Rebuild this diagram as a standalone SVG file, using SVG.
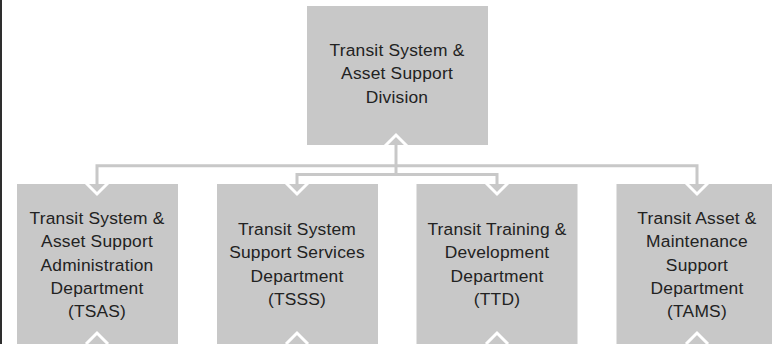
<svg xmlns="http://www.w3.org/2000/svg" width="772" height="344" viewBox="0 0 772 344">
  <style>
    .box { fill: #c8c8c8; }
    .lbl { font-family: "Liberation Sans", Arial, sans-serif; font-size: 17.4px; letter-spacing: 0.2px; fill: #222222; text-anchor: middle; }
    .conn { fill: none; stroke: #c8c8c8; stroke-width: 3; marker-end: url(#chev); }
  </style>
  <defs>
    <marker id="chev" markerUnits="userSpaceOnUse" viewBox="0 0 24 24" markerWidth="24" markerHeight="24" refX="12" refY="12" orient="auto" overflow="visible">
      <path d="M1,1 L12,12 L1,23" fill="none" stroke="#ffffff" stroke-width="3"/>
    </marker>
  </defs>
  <rect x="0" y="0" width="2" height="344" fill="#2e2e2e"/>

  <g id="division">
    <rect class="box" x="307" y="6" width="181" height="139"/>
    <text class="lbl" x="397" y="55.5">Transit System &amp;</text>
    <text class="lbl" x="397" y="79">Asset Support</text>
    <text class="lbl" x="397" y="102.5">Division</text>
  </g>
  <g id="tsas">
    <rect class="box" x="17" y="184" width="161" height="170"/>
    <text class="lbl" x="97" y="224">Transit System &amp;</text>
    <text class="lbl" x="97" y="247.3">Asset Support</text>
    <text class="lbl" x="97" y="270.7">Administration</text>
    <text class="lbl" x="97" y="294">Department</text>
    <text class="lbl" x="97" y="317.3">(TSAS)</text>
  </g>
  <g id="tsss">
    <rect class="box" x="217" y="184" width="161" height="170"/>
    <text class="lbl" x="297" y="235">Transit System</text>
    <text class="lbl" x="297" y="258.3">Support Services</text>
    <text class="lbl" x="297" y="281.7">Department</text>
    <text class="lbl" x="297" y="305">(TSSS)</text>
  </g>
  <g id="ttd">
    <rect class="box" x="416.5" y="184" width="161" height="170"/>
    <text class="lbl" x="497" y="235">Transit Training &amp;</text>
    <text class="lbl" x="497" y="258.3">Development</text>
    <text class="lbl" x="497" y="281.7">Department</text>
    <text class="lbl" x="497" y="305">(TTD)</text>
  </g>
  <g id="tams">
    <rect class="box" x="616.5" y="184" width="161" height="170"/>
    <text class="lbl" x="697" y="224">Transit Asset &amp;</text>
    <text class="lbl" x="697" y="247.3">Maintenance</text>
    <text class="lbl" x="697" y="270.7">Support</text>
    <text class="lbl" x="697" y="294">Department</text>
    <text class="lbl" x="697" y="317.3">(TAMS)</text>
  </g>

  <g id="connectors">
    <path class="conn" d="M396,174.5 L396,135"/>
    <path class="conn" d="M396,165.7 L97,165.7 L97,194"/>
    <path class="conn" d="M396,165.7 L697,165.7 L697,194"/>
    <path class="conn" d="M396,174.5 L297,174.5 L297,194"/>
    <path class="conn" d="M396,174.5 L497,174.5 L497,194"/>
    <path class="conn" d="M97,360 L97,333"/>
    <path class="conn" d="M297,360 L297,333"/>
    <path class="conn" d="M497,360 L497,333"/>
    <path class="conn" d="M697,360 L697,333"/>
  </g>
</svg>
